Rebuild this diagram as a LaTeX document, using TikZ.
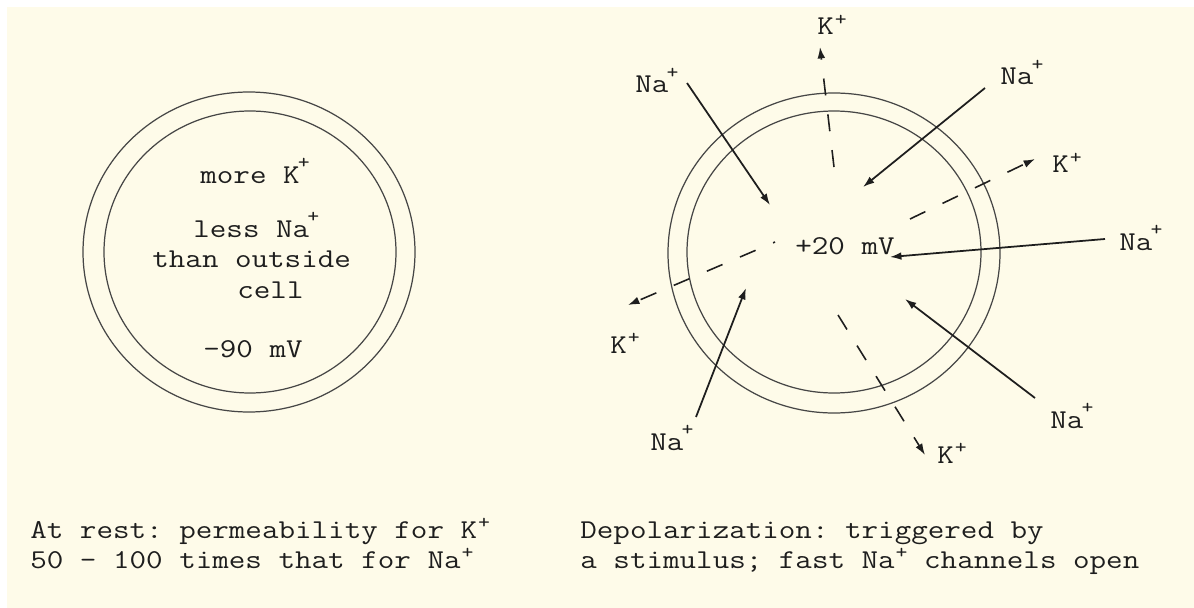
\documentclass[tikz,border=0pt]{standalone}
\usepackage{fontspec}
\setmonofont{Latin Modern Mono}[FakeStretch=1.18]
\usepackage{tikz}
\usetikzlibrary{arrows.meta}
\definecolor{creambg}{RGB}{254, 251, 233}
\definecolor{inkgray}{RGB}{30, 30, 30}
\definecolor{ringgray}{RGB}{70, 70, 70}
\newcommand{\ionsup}{\kern-1pt\raisebox{8.4pt}{\fontsize{11}{11}\selectfont +}}
\newcommand{\ionplus}{\kern0.5pt\raisebox{5.4pt}{\fontsize{11}{11}\selectfont +}}

\begin{document}
\begin{tikzpicture}[
				x=0.02cm, y=-0.02cm,
				ring/.style={draw=ringgray, line width=0.7pt},
				celltext/.style={anchor=base west, inner sep=0pt, text=inkgray, font=\ttfamily\fontsize{15.5}{17.5}\selectfont},
				naflow/.style={draw=inkgray, line width=1pt, -{Latex[length=6.5pt, width=4.4pt]}},
				kflow/.style={draw=inkgray, line width=0.9pt, dash pattern=on 9.7pt off 10.8pt, -{Latex[length=6.5pt, width=4.4pt]}}
				]
				% page
				\fill[white] (0,0) rectangle (1194,608);
				\fill[creambg] (7,7) rectangle (1194,608);
				\useasboundingbox (0,0) rectangle (1194,608);
				
				% Resting cell
				\draw[ring] (249,252) ellipse [x radius=166, y radius=160];
				\draw[ring] (250,252) ellipse [x radius=146, y radius=141];
				\node[celltext] (more_k) at (200,183) {more K\ionsup};
				\node[celltext] (less_na) at (193,237) {less Na\ionsup};
				\node[celltext] (than_out) at (152,267) {than outside};
				\node[celltext] (cell_lbl) at (237,298) {cell};
				\node[celltext] (rest_mv) at (203,357) {-90 mV};
				
				% Depolarized cell
				\draw[ring] (834,253) ellipse [x radius=166, y radius=160];
				\draw[ring] (834,252) ellipse [x radius=147, y radius=141];
				\node[celltext] (depol_mv) at (795,255) {+20 mV};
				
				% Na+ flowing in
				\node[celltext] (na1) at (635,93) {Na\ionsup};
				\node[celltext] (na2) at (1000,85) {Na\ionsup};
				\node[celltext] (na3) at (1119,250) {Na\ionsup};
				\node[celltext] (na4) at (1050,428) {Na\ionsup};
				\node[celltext] (na5) at (650,450) {Na\ionsup};
				\coordinate (na1_from) at (687,83);   \coordinate (na1_to) at (770,205);
				\coordinate (na2_from) at (985,88);   \coordinate (na2_to) at (863,187);
				\coordinate (na3_from) at (1105,239); \coordinate (na3_to) at (890,257);
				\coordinate (na4_from) at (1035,398); \coordinate (na4_to) at (905,299);
				\coordinate (na5_from) at (696,417);  \coordinate (na5_to) at (746,288);
				\draw[naflow] (na1_from) -- (na1_to);
				\draw[naflow] (na2_from) -- (na2_to);
				\draw[naflow] (na3_from) -- (na3_to);
				\draw[naflow] (na4_from) -- (na4_to);
				\draw[naflow] (na5_from) -- (na5_to);
				
				% K+ flowing out
				\node[celltext] (k1) at (817,35) {K\ionplus};
				\node[celltext] (k2) at (1052,173) {K\ionplus};
				\node[celltext] (k3) at (937,463) {K\ionplus};
				\node[celltext] (k4) at (610,353) {K\ionplus};
				\coordinate (k1_from) at (834,167); \coordinate (k1_to) at (820,47);
				\coordinate (k2_from) at (910,219); \coordinate (k2_to) at (1035,159);
				\coordinate (k3_from) at (838,315); \coordinate (k3_to) at (925,455);
				\coordinate (k4_from) at (775,242); \coordinate (k4_to) at (628,305);
				\draw[kflow] (k1_from) -- (k1_to);
				\draw[kflow] (k2_from) -- (k2_to);
				\draw[kflow] (k3_from) -- (k3_to);
				\draw[kflow, dash phase=8.5pt] (k4_from) -- (k4_to);
				
				% Captions
				\node[celltext] (cap_rest1) at (30,538) {At rest: permeability for K\ionplus};
				\node[celltext] (cap_rest2) at (30,568) {50 - 100 times that for Na\ionplus};
				\node[celltext] (cap_depol1) at (580,538) {Depolarization: triggered by};
				\node[celltext] (cap_depol2) at (580,568) {a stimulus; fast Na\ionplus{} channels open};
			\end{tikzpicture}
\end{document}
